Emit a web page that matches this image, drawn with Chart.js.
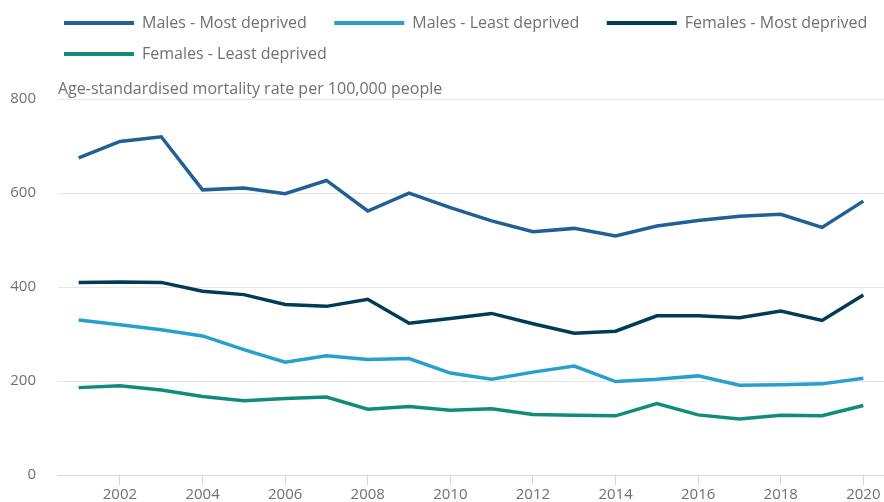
<!DOCTYPE html>
<html>
<head>
<meta charset="utf-8">
<script src="https://cdn.jsdelivr.net/npm/chart.js@4.4.1/dist/chart.umd.min.js"></script>
<style>
  html, body { margin: 0; padding: 0; background: #ffffff; }
  #wrap { width: 884px; height: 502px; position: relative; }
</style>
</head>
<body>
<div id="wrap"><canvas id="c"></canvas></div>
<script>
const years = ['2001','2002','2003','2004','2005','2006','2007','2008','2009','2010',
               '2011','2012','2013','2014','2015','2016','2017','2018','2019','2020'];
const malesMostDeprived   = [675, 710, 720, 607, 611, 599, 627, 562, 600, 569, 541, 518, 525, 509, 530, 542, 551, 555, 527, 583];
const malesLeastDeprived  = [330, 320, 309, 296, 267, 240, 254, 246, 248, 217, 204, 219, 232, 199, 204, 211, 191, 192, 194, 206];
const femalesMostDeprived = [410, 411, 410, 391, 384, 363, 359, 374, 323, 333, 344, 322, 302, 306, 339, 339, 335, 349, 329, 383];
const femalesLeastDeprived= [186, 190, 181, 167, 158, 163, 166, 140, 146, 138, 141, 129, 127, 126, 152, 128, 119, 127, 126, 148];
const yTicks = [0, 200, 400, 600, 800];
const yTitle = 'Age-standardised mortality rate per 100,000 people';

const textColor = '#707070';
const fontFamily = "'Open Sans', sans-serif";

function ds(label, data, color) {
  return { label, data, borderColor: color, backgroundColor: color, borderWidth: 3.5,
           pointRadius: 0, pointHoverRadius: 0, tension: 0, fill: false };
}

// shift the legend so that it starts in line with the plot, as in the reference
const legendShift = {
  id: 'legendShift',
  afterLayout(chart) {
    if (chart.legend) { chart.legend.left += 49; chart.legend.right += 49; }
  }
};

new Chart(document.getElementById('c'), {
  type: 'line',
  data: {
    labels: years,
    datasets: [
      ds('Males - Most deprived', malesMostDeprived, '#206095'),
      ds('Males - Least deprived', malesLeastDeprived, '#27a0cc'),
      ds('Females - Most deprived', femalesMostDeprived, '#003c57'),
      ds('Females - Least deprived', femalesLeastDeprived, '#118c7b')
    ]
  },
  plugins: [legendShift],
  options: {
    responsive: true,
    maintainAspectRatio: false,
    animation: false,
    layout: { autoPadding: false, padding: 0 },
    plugins: {
      legend: {
        position: 'top',
        align: 'start',
        labels: {
          boxWidth: 70,
          boxHeight: 4,
          padding: 15,
          color: textColor,
          font: { family: fontFamily, size: 16 },
          generateLabels: (chart) => Chart.defaults.plugins.legend.labels.generateLabels(chart)
            .map(l => Object.assign(l, { lineWidth: 0, fillStyle: l.strokeStyle, text: l.text + '   ' }))
        }
      },
      title: {
        display: true,
        text: yTitle,
        align: 'start',
        fullSize: false,
        weight: 500,
        color: textColor,
        font: { family: fontFamily, size: 16, weight: 'normal' },
        padding: { top: 8, bottom: 0 }
      },
      tooltip: { enabled: false }
    },
    scales: {
      x: {
        type: 'category',
        offset: true,
        grid: {
          drawOnChartArea: false,
          drawTicks: true,
          tickLength: 10,
          tickColor: (ctx) => (ctx.index % 2 === 1 ? '#d0d8ec' : 'rgba(0,0,0,0)')
        },
        border: { display: true, color: '#d0d8ec', width: 1 },
        ticks: {
          autoSkip: false,
          maxRotation: 0,
          padding: 1,
          color: textColor,
          font: { family: fontFamily, size: 15 },
          callback: function (val, idx) { return idx % 2 === 1 ? years[idx] : ''; }
        },
        afterFit: (scale) => { scale.height = 27; }
      },
      y: {
        min: 0,
        max: 800,
        afterBuildTicks: (scale) => { scale.ticks = yTicks.map(v => ({ value: v })); },
        grid: { color: '#e6e6e6', drawTicks: false, lineWidth: 1 },
        border: { display: false },
        ticks: { padding: 22, color: textColor, font: { family: fontFamily, size: 15, lineHeight: 0.4 } },
        afterFit: (scale) => { scale.width = 58; }
      }
    }
  }
});
</script>
</body>
</html>
